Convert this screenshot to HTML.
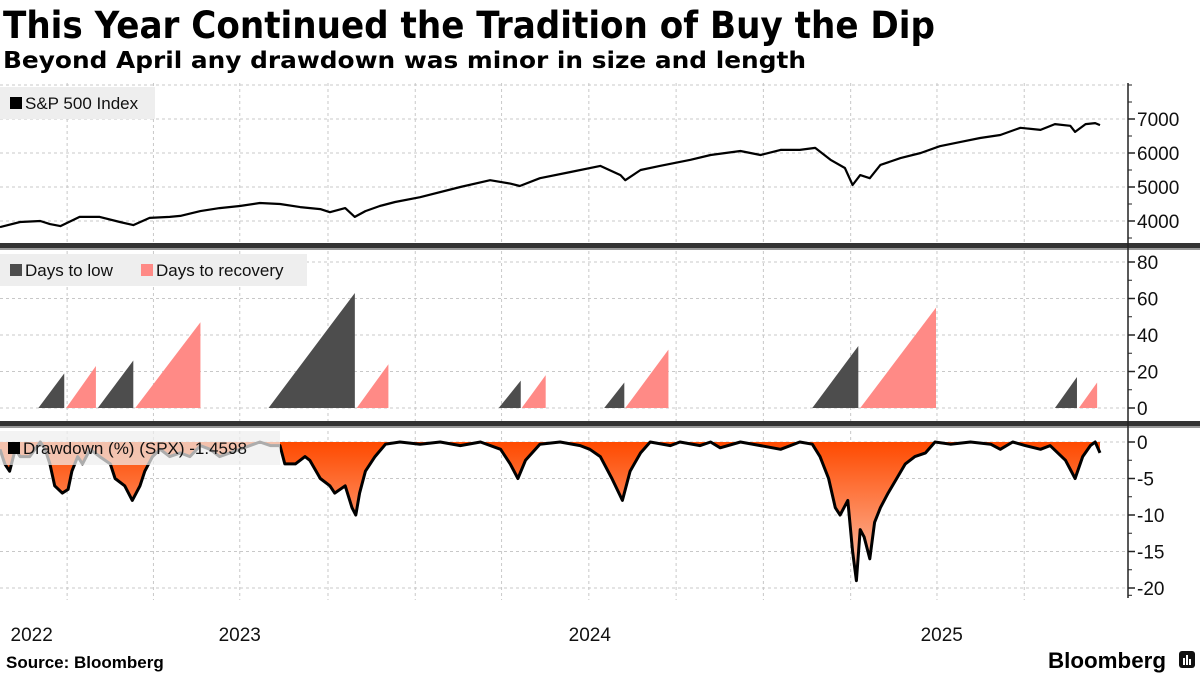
<!DOCTYPE html>
<html><head><meta charset="utf-8"><style>
html,body{margin:0;padding:0;background:#fff;}
svg{display:block;font-family:"Liberation Sans","DejaVu Sans",sans-serif;}
</style></head><body>
<svg id="chart" width="1200" height="675" viewBox="0 0 1200 675">
<defs>
<linearGradient id="ddgrad" x1="0" y1="0" x2="0" y2="1">
<stop offset="0" stop-color="#ff4a00"/><stop offset="1" stop-color="#fbc5b0"/>
</linearGradient>
</defs>
<text x="3" y="38" font-size="37" font-weight="bold" font-family="DejaVu Sans, sans-serif" textLength="932" lengthAdjust="spacingAndGlyphs">This Year Continued the Tradition of Buy the Dip</text>
<text x="3" y="68" font-size="23" font-weight="bold" font-family="DejaVu Sans, sans-serif" textLength="803" lengthAdjust="spacingAndGlyphs">Beyond April any drawdown was minor in size and length</text>
<g id="grid"></g>
<g id="marks"></g>
<g id="legends"></g>
<g id="axis"></g>
<text x="6" y="668" font-size="17" font-weight="bold">Source: Bloomberg</text>
<text x="1048" y="668" font-size="22" font-weight="bold" textLength="118" lengthAdjust="spacingAndGlyphs">Bloomberg</text>
<g><rect x="1179" y="651" width="16" height="17" rx="3" fill="#111"/><rect x="1183" y="658" width="2" height="7" fill="#fff"/><rect x="1186" y="655" width="2" height="10" fill="#fff"/><rect x="1189" y="659" width="2" height="6" fill="#fff"/></g>
</svg>
<script>
// ---- data ----
const spxDays = [0,21,42,52,63,83,104,125,139,156,177,188,209,229,250,271,292,313,334,344,360,370,381,396,412,438,480,511,532,542,563,595,626,647,652,668,688,720,741,772,793,814,834,850,866,881,889,897,907,918,939,960,980,1001,1022,1043,1064,1085,1100,1116,1121,1132,1142,1147];
const spxValues = [3820,3970,4000,3910,3850,4120,4120,3970,3880,4090,4120,4150,4290,4380,4440,4530,4500,4410,4350,4260,4380,4120,4290,4440,4560,4700,5000,5200,5100,5030,5260,5440,5620,5350,5200,5500,5620,5800,5940,6060,5940,6090,6090,6150,5800,5560,5060,5350,5260,5650,5850,6000,6200,6320,6440,6530,6740,6680,6850,6800,6620,6850,6880,6820];
const ddDays = [0,5,10,16,21,31,42,47,52,57,65,71,75,81,86,94,104,115,120,130,138,146,151,159,167,177,188,198,209,219,229,250,271,282,292,297,308,318,323,334,344,349,360,367,371,375,381,391,402,417,438,459,480,501,522,532,540,548,563,584,605,615,626,638,649,657,668,678,699,709,730,741,751,772,793,814,834,847,855,864,871,876,884,889,893,897,901,907,912,918,926,935,944,954,965,975,991,1012,1033,1043,1056,1069,1085,1095,1111,1121,1129,1137,1142,1147];
const ddValues = [-1,-3,-4,-1,-2,-2,0,-1,-3,-6,-7,-6.5,-4,-2,-3,-1,-2,-3,-5,-6,-8,-6,-4,-2,-1,-2,-1.5,-2,-0.5,-1,-2,-1,0,-0.5,-0.5,-3,-3,-2,-2.5,-5,-6,-7,-6,-9,-10,-7,-4,-2,-0.3,0,-0.3,0,-0.5,0,-1,-3,-5,-2.5,-0.3,0,-0.5,-1,-2,-5,-8,-4,-1.5,0,-0.5,0,-0.5,0,-0.8,0,-0.5,-1,0,-0.3,-2,-5,-9,-10,-8,-15,-19,-12,-13,-16,-11,-9,-7,-5,-3,-2,-1.5,0,-0.3,0,-0.3,-1,0,-0.5,-1,-0.5,-2.5,-5,-2,-0.5,0,-1.5];
const lowStart = [40,102,280,520,630,847,1100];
const lowEnd = [67,139,370,543,651,895,1123];
const lowDays = [19,26,63,15,14,34,17];
const recStart = [69,141,372,544,652,897,1125];
const recEnd = [100,209,405,569,697,976,1144];
const recDays = [23,47,24,18,32,55,14];
const gridDays = [70,160,250,342,433,523,614,705,796,887,977,1068];
const yearLabels = ["2022","2023","2024","2025"];
const yearDays = [33,250,615,982];
const spxTicks = [7000,6000,5000,4000];
const daysTicks = [80,60,40,20,0];
const ddTicks = [0,-5,-10,-15,-20];

// ---- scales ----
const NS='http://www.w3.org/2000/svg';
const X0=0, X1=1100, D0=0, D1=1147, AX=1128;
const x = d => X0 + (d-D0)/(D1-D0)*(X1-X0);
const ySpx = v => 153 - (v-6000)*0.034;
const yDays = v => 408 - v*1.825;
const yDd = v => 442 - v*7.3;
function mk(tag, attrs, parent){const e=document.createElementNS(NS,tag);for(const k in attrs)e.setAttribute(k,attrs[k]);parent.appendChild(e);return e;}
const grid=document.getElementById('grid'), marks=document.getElementById('marks'), axis=document.getElementById('axis'), legends=document.getElementById('legends');

// gridlines
gridDays.forEach(d=>{
  const l=mk('line',{x1:x(d),x2:x(d),y1:83,y2:600,stroke:'#c8c8c8','stroke-dasharray':'3,3','stroke-width':1},grid);
  
  
});
[8000].concat(spxTicks).forEach(v=>{const l=mk('line',{x1:0,x2:AX,y1:ySpx(v),y2:ySpx(v),stroke:'#c8c8c8','stroke-dasharray':'3,3'},grid);
  
  });
daysTicks.forEach(v=>{const l=mk('line',{x1:0,x2:AX,y1:yDays(v),y2:yDays(v),stroke:'#c8c8c8','stroke-dasharray':'3,3'},grid);
  
  });
ddTicks.forEach(v=>{const l=mk('line',{x1:0,x2:AX,y1:yDd(v),y2:yDd(v),stroke:'#c8c8c8','stroke-dasharray':'3,3'},grid);
  
  });

// spx line
let p=spxDays.map((d,i)=>(i?'L':'M')+x(d).toFixed(1)+','+ySpx(spxValues[i]).toFixed(1)).join('');
const spx=mk('path',{d:p,fill:'none',stroke:'#000','stroke-width':2.2,'stroke-linejoin':'round'},marks);



// ramps
function ramp(s,e,v,color,name){
  const t=mk('polygon',{points:`${x(s)},${yDays(0)} ${x(e)},${yDays(v)} ${x(e)},${yDays(0)}`,fill:color},marks);
  
  
}
lowDays.forEach((v,i)=>ramp(lowStart[i],lowEnd[i],v,'#4d4d4d','days-to-low-ramp'));
recDays.forEach((v,i)=>ramp(recStart[i],recEnd[i],v,'#ff8a86','days-to-recovery-ramp'));

// drawdown
let dp=ddDays.map((d,i)=>(i?'L':'M')+x(d).toFixed(1)+','+yDd(ddValues[i]).toFixed(1)).join('');
const area=mk('path',{d:dp+`L${x(ddDays[ddDays.length-1])},${yDd(0)}L${x(ddDays[0])},${yDd(0)}Z`,fill:'url(#ddgrad)'},marks);


const ddl=mk('path',{d:dp,fill:'none',stroke:'#000','stroke-width':3,'stroke-linejoin':'round'},marks);



// legends
function legend(x0,y0,w,h,items,op,name){
  const g=mk('g',{},legends);
  
  
  mk('rect',{x:x0,y:y0,width:w,height:h,fill:'#eeeeee','fill-opacity':op},g);
  items.forEach(it=>{mk('rect',{x:it[0],y:y0+h/2-6,width:12,height:12,fill:it[2]},g);
    const t=mk('text',{x:it[0]+15,y:y0+h/2+6,'font-size':17,fill:'#111'},g);t.textContent=it[1];});
}
legend(0,87,155,32,[[10,'S&P 500 Index','#000']],1,'spx-legend');
legend(0,254,307,32,[[10,'Days to low','#4d4d4d'],[141,'Days to recovery','#ff8a86']],1,'days-legend');
legend(0,431,280,34,[[8,'Drawdown (%) (SPX) -1.4598','#000']],0.72,'drawdown-legend');

// separators
[243,421].forEach(y=>{const g=mk('g',{},axis);
  
  
  mk('rect',{x:0,y:y,width:1200,height:5,fill:'#333'},g);mk('rect',{x:0,y:y+5,width:1200,height:2,fill:'#999'},g);});

// right axis
const al=mk('line',{x1:AX,x2:AX,y1:83,y2:598,stroke:'#222','stroke-width':1.5},axis);


function ticks(vals,minor,sc,name,ymin,ymax){
  minor.forEach(v=>{const y=sc(v);if(y>ymin&&y<ymax)mk('line',{x1:AX,x2:AX+4,y1:y,y2:y,stroke:'#222'},axis);});
  vals.forEach(v=>{const y=sc(v);mk('line',{x1:AX,x2:AX+7,y1:y,y2:y,stroke:'#222','stroke-width':1.5},axis);
    const t=mk('text',{x:AX+9,y:y+7,'font-size':19,fill:'#111'},axis);t.textContent=String(v);
    
    });
}
ticks(spxTicks,[3500,4500,5500,6500,7500,8000],ySpx,'spx-tick-label',80,243);
ticks(daysTicks,[10,30,50,70],yDays,'days-tick-label',250,421);
ticks(ddTicks,[-2.5,-7.5,-12.5,-17.5,-21],yDd,'drawdown-tick-label',428,598);

// x labels
yearLabels.forEach((s,i)=>{const t=mk('text',{x:x(yearDays[i]),y:641,'font-size':19,'text-anchor':'middle',fill:'#111'},axis);t.textContent=s;
  
  });
</script>
</body></html>
